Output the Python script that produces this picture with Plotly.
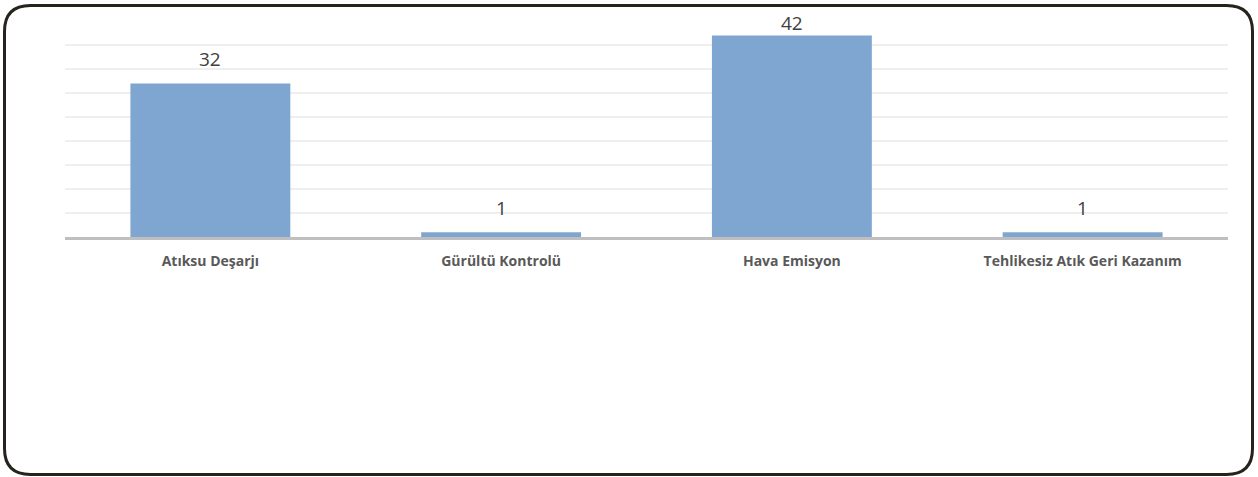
import plotly.graph_objects as go

categories = ["Atıksu Deşarjı", "Gürültü Kontrolü", "Hava Emisyon", "Tehlikesiz Atık Geri Kazanım"]
values = [32, 1, 42, 1]
y_ticks = [0, 5, 10, 15, 20, 25, 30, 35, 40, 45]
Y_MAX = 45

W, H = 1258, 477
ML, MR, MT, MB = 65, 30, 20.5, 240
PW, PH = W - ML - MR, H - MT - MB
PX_PER_UNIT = PH / Y_MAX

def px(x):
    return (x - ML) / PW

def py(y):
    return (H - MB - y) / PH

def rounded_rect(x0, y0, x1, y1, r):
    pts = [
        f"M {px(x0 + r)},{py(y0)}",
        f"L {px(x1 - r)},{py(y0)}",
        f"Q {px(x1)},{py(y0)} {px(x1)},{py(y0 + r)}",
        f"L {px(x1)},{py(y1 - r)}",
        f"Q {px(x1)},{py(y1)} {px(x1 - r)},{py(y1)}",
        f"L {px(x0 + r)},{py(y1)}",
        f"Q {px(x0)},{py(y1)} {px(x0)},{py(y1 - r)}",
        f"L {px(x0)},{py(y0 + r)}",
        f"Q {px(x0)},{py(y0)} {px(x0 + r)},{py(y0)}",
        "Z",
    ]
    return " ".join(pts)

fig = go.Figure()
fig.add_trace(go.Bar(
    x=categories, y=values,
    marker=dict(color="#7fa6d0", line=dict(width=0)),
    hoverinfo="x+y",
))

for c, v in zip(categories, values):
    shift = min(24, (Y_MAX - v) * PX_PER_UNIT - 2)
    fig.add_annotation(x=c, y=v, text=str(v), showarrow=False,
                       yanchor="middle", yshift=shift,
                       font=dict(family="Open Sans", size=19, color="#404040"))

fig.add_shape(type="path", xref="paper", yref="paper",
              path=rounded_rect(4.5, 5, 1252.5, 475, 26),
              line=dict(color="#26221c", width=3), layer="above")

fig.update_layout(
    width=W, height=H,
    margin=dict(l=ML, r=MR, t=MT, b=MB, pad=0),
    paper_bgcolor="white", plot_bgcolor="white",
    bargap=0.45,
    showlegend=False,
    font=dict(family="Open Sans"),
    xaxis=dict(
        showgrid=False, showline=True, linecolor="#bfbfbf", linewidth=2.5,
        ticks="outside", ticklen=9, tickcolor="rgba(0,0,0,0)",
        tickfont=dict(family="Open Sans", size=14, color="#595959", weight="bold"),
        fixedrange=True,
    ),
    yaxis=dict(
        range=[0, Y_MAX], tickvals=y_ticks, showticklabels=False,
        showgrid=True, gridcolor="#efefef", gridwidth=1.5,
        zeroline=False, showline=False, fixedrange=True,
    ),
)

fig.write_html("out.html", config={"displayModeBar": False},
               post_script="document.body.style.margin='0';")
